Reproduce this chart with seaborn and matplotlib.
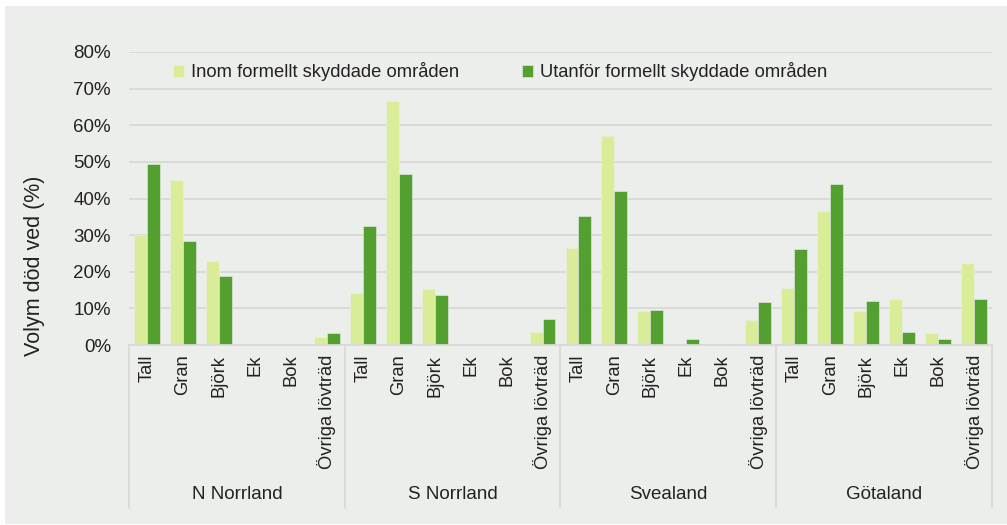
import pandas as pd
import seaborn as sns
import matplotlib.pyplot as plt
from matplotlib.patches import Rectangle
from matplotlib.ticker import MultipleLocator, PercentFormatter

regions = ['N Norrland', 'S Norrland', 'Svealand', 'Götaland']
species = ['Tall', 'Gran', 'Björk', 'Ek', 'Bok', 'Övriga lövträd']
series = ['Inom formellt skyddade områden', 'Utanför formellt skyddade områden']

# values in %, per region, species order as above
inom = [
    [30.0, 45.0, 22.9, 0.0, 0.0, 2.2],
    [14.3, 66.6, 15.3, 0.2, 0.1, 3.5],
    [26.6, 57.1, 9.3, 0.2, 0.2, 6.9],
    [15.6, 36.6, 9.4, 12.5, 3.3, 22.5],
]
utanfor = [
    [49.4, 28.4, 18.9, 0.0, 0.0, 3.3],
    [32.4, 46.7, 13.7, 0.0, 0.0, 7.2],
    [35.1, 42.0, 9.6, 1.6, 0.3, 11.7],
    [26.1, 44.0, 12.1, 3.5, 1.6, 12.6],
]

light = '#d9ec97'
dark = '#53a030'
bg = '#eceeeb'
grid_col = '#d8d9d6'
txt = '#222222'

rows = []
for r, reg in enumerate(regions):
    for s, sp in enumerate(species):
        key = f'{reg}|{sp}'
        rows.append({'pos': key, 'serie': series[0], 'val': inom[r][s]})
        rows.append({'pos': key, 'serie': series[1], 'val': utanfor[r][s]})
df = pd.DataFrame(rows)
order = [f'{reg}|{sp}' for reg in regions for sp in species]

sns.set_style('white')
plt.rcParams['font.family'] = ['Liberation Sans', 'DejaVu Sans']

fig = plt.figure(figsize=(10.07, 5.25), dpi=100)
fig.patch.set_facecolor('white')
fig.patches.append(Rectangle((5 / 1007, 0.002), 1, 1 - 6 / 525 - 0.002,
                             transform=fig.transFigure, facecolor=bg,
                             edgecolor='none', zorder=-10))

ax = fig.add_axes([129 / 1007, 1 - 345 / 525, (992 - 129) / 1007, (345 - 52) / 525])
ax.set_facecolor(bg)

sns.barplot(data=df, x='pos', y='val', hue='serie', order=order,
            hue_order=series, palette=[light, dark], saturation=1, width=0.72,
            edgecolor=bg, linewidth=0.4, ax=ax, legend=True)

ax.set_ylim(0, 80)
ax.yaxis.set_major_locator(MultipleLocator(10))
ax.yaxis.set_major_formatter(PercentFormatter(decimals=0))
ax.grid(axis='y', color=grid_col, linewidth=1.3)
ax.set_axisbelow(True)
for sp in ['top', 'right', 'left']:
    ax.spines[sp].set_visible(False)
ax.spines['bottom'].set_color(grid_col)
ax.spines['bottom'].set_linewidth(1.3)
ax.set_xlim(-0.5, len(order) - 0.5)

ax.tick_params(axis='y', length=0, labelsize=13.5, colors=txt, pad=13)
ax.set_xticks(range(len(order)))
ax.set_xticklabels([o.split('|')[1] for o in order], rotation=90,
                   fontsize=13.2, color=txt)
ax.tick_params(axis='x', length=0, pad=7)
ax.set_xlabel('')
ax.set_ylabel('')
fig.text(35 / 1007, 1 - 266 / 525, 'Volym död ved (%)', rotation=90,
         ha='center', va='center', fontsize=15.5, color=txt)

# region separators and labels
for i in range(len(regions) + 1):
    x = i * len(species) - 0.5
    ax.plot([x, x], [0, -44.5], color=grid_col, linewidth=1.2, clip_on=False)
for i, reg in enumerate(regions):
    ax.text(i * len(species) + 2.5, -40.8, reg, ha='center', va='center',
            fontsize=13.5, color=txt)

leg = ax.legend(loc='center left', bbox_to_anchor=(0.051, 0.932), ncol=2,
                frameon=False, fontsize=13.2, borderpad=0, borderaxespad=0,
                handlelength=0.6, handleheight=0.6, handletextpad=0.4,
                columnspacing=3.4)
for t in leg.get_texts():
    t.set_color(txt)

fig.savefig('out.png', dpi=100, facecolor=fig.get_facecolor())
